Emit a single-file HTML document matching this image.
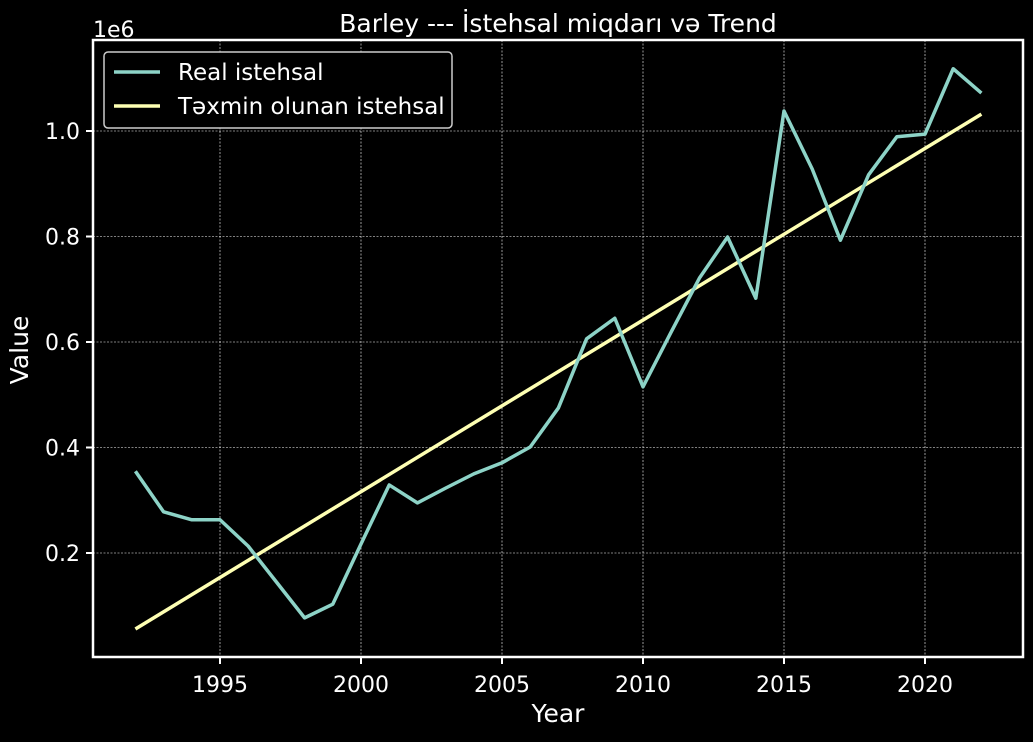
<!DOCTYPE html>
<html><head><meta charset="utf-8"><style>
body{margin:0;background:#000;}
svg text{font-family:"DejaVu Sans","Liberation Sans",sans-serif;fill:#fff;}
</style></head><body>
<svg id="c" width="1033" height="737" xmlns="http://www.w3.org/2000/svg">
<rect width="1033" height="737" fill="#000"/>
<g id="grid"></g>
<g id="series"></g>
<rect x="93" y="40" width="930" height="617" fill="none" stroke="#fff" stroke-width="2.5"/>
<g id="ticks"></g>
<text x="558" y="32" font-size="25" text-anchor="middle">Barley --- İstehsal miqdarı və Trend</text>
<text x="558" y="722" font-size="25" text-anchor="middle">Year</text>
<text x="28" y="350" font-size="25" text-anchor="middle" transform="rotate(-90 28 350)">Value</text>
<text x="93" y="37" font-size="22">1e6</text>
<g>
<rect x="104" y="52" width="348" height="76" rx="4" fill="#000" stroke="#ccc" stroke-width="1.5"/>
<line x1="114" y1="72" x2="160" y2="72" stroke="#8dd3c7" stroke-width="3.5"/>
<text x="178" y="80" font-size="23">Real istehsal</text>
<line x1="114" y1="106" x2="160" y2="106" stroke="#feffb3" stroke-width="3.5"/>
<text x="178" y="114" font-size="23">Təxmin olunan istehsal</text>
</g>
</svg>
<script>
const years=[1992,1993,1994,1995,1996,1997,1998,1999,2000,2001,2002,2003,2004,2005,2006,2007,2008,2009,2010,2011,2012,2013,2014,2015,2016,2017,2018,2019,2020,2021,2022];
const realValues=[0.355,0.278,0.263,0.263,0.213,0.145,0.077,0.103,0.217,0.329,0.295,0.323,0.35,0.371,0.401,0.475,0.606,0.645,0.515,0.619,0.721,0.799,0.683,1.038,0.928,0.793,0.917,0.989,0.994,1.118,1.072];
const trendStart=0.056, trendEnd=1.032;
const xTicks=[1995,2000,2005,2010,2015,2020];
const yTicks=[0.2,0.4,0.6,0.8,1.0];
const yTickLabels=["0.2","0.4","0.6","0.8","1.0"];
const NS="http://www.w3.org/2000/svg";
function xs(y){return 220+(y-1995)*28.2;}
function ys(v){return 553-(v-0.2)*527.5;}
function mk(t,a,p){const e=document.createElementNS(NS,t);for(const k in a)e.setAttribute(k,a[k]);p.appendChild(e);return e;}
const grid=document.getElementById('grid'),ticks=document.getElementById('ticks'),ser=document.getElementById('series');
xTicks.forEach(t=>{const x=xs(t);
 const g=mk('line',{x1:x,x2:x,y1:40,y2:657,stroke:'#fff','stroke-width':0.6,'stroke-dasharray':'2,1.5'},grid);
 
 
 const tk=mk('line',{x1:x,x2:x,y1:657,y2:664,stroke:'#fff','stroke-width':2},ticks);
 
 
 const l=mk('text',{x:x,y:692,'font-size':22,'text-anchor':'middle'},ticks);l.textContent=t;
 
 
});
yTicks.forEach((t,i)=>{const y=ys(t);
 const g=mk('line',{x1:93,x2:1023,y1:y,y2:y,stroke:'#fff','stroke-width':0.6,'stroke-dasharray':'2,1.5'},grid);
 
 
 const tk=mk('line',{x1:86,x2:93,y1:y,y2:y,stroke:'#fff','stroke-width':2},ticks);
 
 
 const l=mk('text',{x:80,y:y+8,'font-size':22,'text-anchor':'end'},ticks);l.textContent=yTickLabels[i];
 
 
});
const y0=years[0],y1=years[years.length-1];
const tr=mk('line',{x1:xs(y0),y1:ys(trendStart),x2:xs(y1),y2:ys(trendEnd),stroke:'#feffb3','stroke-width':3.5},ser);


const pts=years.map((y,i)=>xs(y)+','+ys(realValues[i])).join(' ');
const rl=mk('polyline',{points:pts,fill:'none',stroke:'#8dd3c7','stroke-width':3.5,'stroke-linejoin':'round'},ser);


</script>
</body></html>
